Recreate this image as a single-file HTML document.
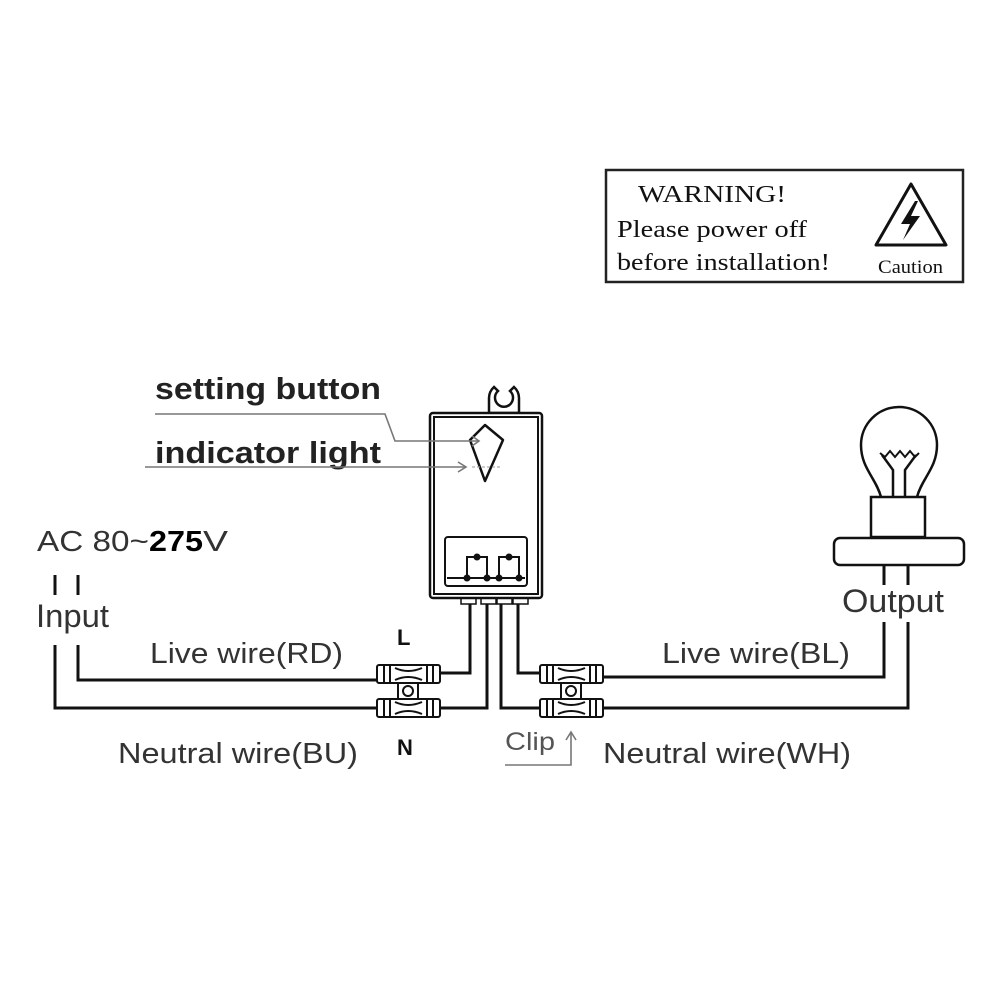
<!DOCTYPE html>
<html><head><style>html,body{margin:0;padding:0;background:#fff}svg{display:block}</style></head>
<body>
<svg width="1000" height="1000" viewBox="0 0 1000 1000" xmlns="http://www.w3.org/2000/svg" font-family="Liberation Sans, sans-serif">
<rect width="1000" height="1000" fill="#fff"/>
<!-- warning box -->
<rect x="606" y="170" width="357" height="112" fill="none" stroke="#222" stroke-width="2.5"/>
<g font-family="Liberation Serif, serif" fill="#111">
<text x="638" y="202" font-size="24" textLength="148" lengthAdjust="spacingAndGlyphs">WARNING!</text>
<text x="617" y="237" font-size="24" textLength="190" lengthAdjust="spacingAndGlyphs">Please power off</text>
<text x="617" y="270" font-size="24" textLength="213" lengthAdjust="spacingAndGlyphs">before installation!</text>
<text x="878" y="273" font-size="19" textLength="65" lengthAdjust="spacingAndGlyphs">Caution</text>
</g>
<path d="M911 184 L946 245 L876 245 Z" fill="none" stroke="#111" stroke-width="3" stroke-linejoin="round"/>
<path d="M915 201 L901 224 L910 224 L903 240 L920 216 L911 216 L918 201 Z" fill="#111"/>
<!-- labels -->
<g fill="#222">
<text x="155" y="399" font-size="31" font-weight="bold" textLength="226" lengthAdjust="spacingAndGlyphs">setting button</text>
<text x="155" y="463" font-size="31" font-weight="bold" textLength="226" lengthAdjust="spacingAndGlyphs">indicator light</text>
</g>
<g fill="#333">
<text x="37" y="551" font-size="29" textLength="112" lengthAdjust="spacingAndGlyphs">AC 80~</text>
<text x="149" y="551" font-size="29" font-weight="bold" fill="#000" textLength="54" lengthAdjust="spacingAndGlyphs">275</text>
<text x="203" y="551" font-size="29" textLength="25" lengthAdjust="spacingAndGlyphs">V</text>
<text x="36" y="627" font-size="32" textLength="73" lengthAdjust="spacingAndGlyphs">Input</text>
<text x="150" y="663" font-size="29" textLength="193" lengthAdjust="spacingAndGlyphs">Live wire(RD)</text>
<text x="118" y="763" font-size="29" textLength="240" lengthAdjust="spacingAndGlyphs">Neutral wire(BU)</text>
<text x="397" y="645" font-size="22" font-weight="bold" fill="#111">L</text>
<text x="397" y="755" font-size="22" font-weight="bold" fill="#111">N</text>
<text x="505" y="750" font-size="25" textLength="50" lengthAdjust="spacingAndGlyphs" fill="#555">Clip</text>
<text x="662" y="663" font-size="29" textLength="188" lengthAdjust="spacingAndGlyphs">Live wire(BL)</text>
<text x="603" y="763" font-size="29" textLength="248" lengthAdjust="spacingAndGlyphs">Neutral wire(WH)</text>
<text x="842" y="612" font-size="32" textLength="102" lengthAdjust="spacingAndGlyphs">Output</text>
</g>
<g stroke="#777" stroke-width="1.6" fill="none">
<path d="M505 765 L571 765 L571 733"/>
<path d="M566 740 L571 732 L576 740"/>
</g>
<!-- wires -->
<g stroke="#111" stroke-width="3" fill="none">
<path d="M55 575 L55 595 M78 575 L78 595"/>
<path d="M78 645 L78 680 L377 680"/>
<path d="M55 645 L55 708 L377 708"/>
<path d="M470 604 L470 673 L440 673"/>
<path d="M487 604 L487 708 L440 708"/>
<path d="M501 604 L501 708 L540 708"/>
<path d="M518 604 L518 673 L540 673"/>
<path d="M603 677 L884 677 L884 622"/>
<path d="M603 708 L908 708 L908 622"/>
<path d="M884 566 L884 585 M908 566 L908 585"/>
</g>
<!-- connectors -->
<g stroke="#111" stroke-width="2" fill="#fff">
<g id="c">
<rect x="377" y="665" width="63" height="18" rx="2"/>
<rect x="377" y="699" width="63" height="18" rx="2"/>
<path d="M384 665 v18 M390 665 v18 M427 665 v18 M433 665 v18 M384 699 v18 M390 699 v18 M427 699 v18 M433 699 v18"/>
<path d="M395 668 Q408 674 422 668 M395 680 Q408 674 422 680 M395 702 Q408 708 422 702 M395 714 Q408 708 422 714"/>
<rect x="398" y="683" width="20" height="16"/>
<circle cx="408" cy="691" r="5"/>
</g>
<use href="#c" x="163" y="0"/>
</g>
<!-- module -->
<g stroke="#111" fill="none">
<path d="M489 413 L489 398 A15 15 0 0 1 494 387 L498 391 A9 9 0 1 0 510 391 L514 387 A15 15 0 0 1 519 398 L519 413 Z" stroke-width="2.5" fill="#fff"/>
<rect x="430" y="413" width="112" height="185" rx="3" stroke-width="2.5" fill="#fff"/>
<rect x="434" y="417" width="104" height="177" stroke-width="2"/>
<path d="M485 425 L503 440 L485 481 L470 440 Z" stroke-width="2.5" stroke-linejoin="round"/>
<rect x="445" y="537" width="82" height="49" rx="3" stroke-width="2"/>
<path d="M467 578 L467 557 L487 557 L487 578 M499 578 L499 557 L519 557 L519 578 M447 578 L525 578" stroke-width="2"/>
<rect x="461" y="598" width="15" height="6" stroke-width="1.5"/>
<rect x="481" y="598" width="15" height="6" stroke-width="1.5"/>
<rect x="497" y="598" width="15" height="6" stroke-width="1.5"/>
<rect x="513" y="598" width="15" height="6" stroke-width="1.5"/>
</g>
<g fill="#111"><circle cx="477" cy="557" r="3.5"/><circle cx="509" cy="557" r="3.5"/><circle cx="467" cy="578" r="3.5"/><circle cx="487" cy="578" r="3.5"/><circle cx="499" cy="578" r="3.5"/><circle cx="519" cy="578" r="3.5"/></g>
<path d="M472 467 L500 467" stroke="#999" stroke-width="1" stroke-dasharray="3 2"/>
<g stroke="#777" stroke-width="1.6" fill="none">
<path d="M155 414 L385 414 L395 441 L478 441"/>
<path d="M472 436 L479 441 L472 446"/>
<path d="M145 467 L465 467"/>
<path d="M458 462 L466 467 L458 472"/>
</g>
<!-- lamp -->
<g stroke="#111" stroke-width="2.5" fill="none">
<path d="M881 497 C876 478 861 468 861 445 A38 38 0 0 1 937 445 C937 468 922 478 917 497"/>
<path d="M893 497 L893 470 L882 455 M905 497 L905 470 L916 455"/>
<path d="M880 453 L885 457 L890 451 L895 457 L900 451 L905 457 L910 451 L915 457 L919 453" stroke-width="2"/>
<rect x="871" y="497" width="54" height="40" fill="#fff"/>
<rect x="834" y="538" width="130" height="27" rx="6" fill="#fff"/>
</g>
</svg>
</body></html>
